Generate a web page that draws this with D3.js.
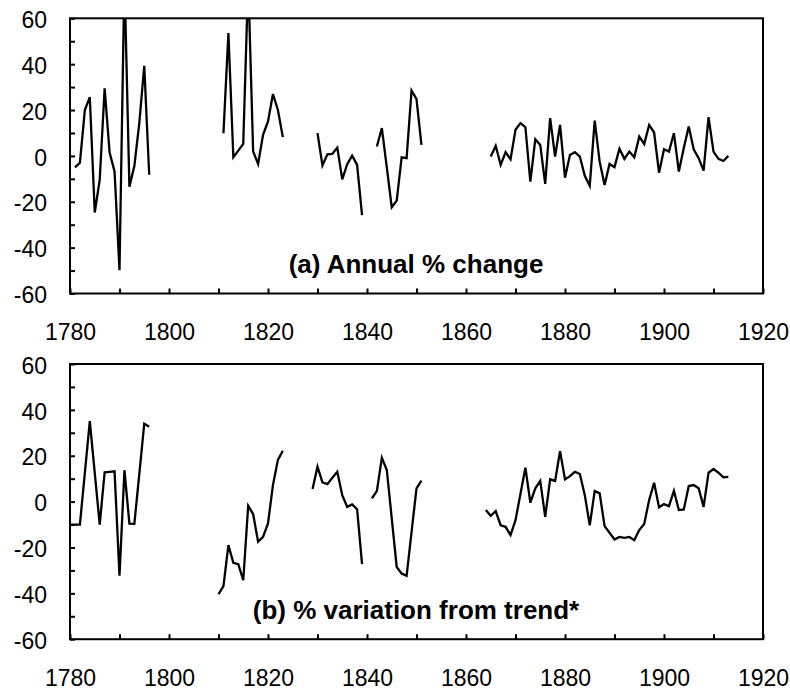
<!DOCTYPE html>
<html>
<head>
<meta charset="utf-8">
<script src="https://cdn.jsdelivr.net/npm/d3@7"></script>
<style>
  body { margin: 0; background: #fff; }
  text { font-family: Arial, "Liberation Sans", sans-serif; }
</style>
</head>
<body>
<div id="chart"></div>
<script>
// panel (a): annual % change, first value is 1781, null = no data
const startA = 1781;
const annualChange = [
  -5, -3, 20, 25.6, -24.7, -10.5, 29.5, 1.5, -6.8, -49.8, 78, -13.4, -4.4, 14.3, 39.3, -8.2,
  null, null, null, null, null, null, null, null, null, null, null, null, null, null,
  9.9, 53.6, -0.6, 2.3, 5.2, 77, 1.9, -3.5, 9.2, 15, 27, 20, 8.2,
  null, null, null, null, null, null,
  9.9, -4.2, 0.7, 0.9, 3.6, -10.2, -3.6, 0.1, -3.9, -25.8,
  null, null,
  4.1, 12.1, -5, -22.4, -19.5, -0.6, -1, 28.5, 24.8, 4.8,
  null, null, null, null, null, null, null, null, null, null, null, null, null,
  -0.3, 4.4, -3.9, 1.6, -1.5, 11.4, 14.3, 12.5, -11.2, 7.3, 4.8, -12.2, 16.5, -0.3, 13.5,
  -9.5, 0.4, 1.6, -0.3, -8.7, -13, 15.4, -2.5, -12.7, -3.5, -4.9, 3.1, -1.3, 1.9, -0.6,
  8.4, 5.2, 13.5, 10.2, -7.3, 2.9, 1.9, 9.9, -6.8, 3.4, 12.8, 2.9, -1, -6.4, 16.9,
  1.9, -1.3, -2.2, 0
];

// panel (b): % variation from trend, first value is 1780
const startB = 1780;
const trendVariation = [
  -10, -10, -10, 12.5, 35.1, 12.5, -10, 12.8, 13, 13.2, -32.3, 13.7, -9.6, -9.7, 12, 34, 32.6,
  null, null, null, null, null, null, null, null, null, null, null, null, null,
  -40.4, -36.9, -19, -26.7, -27.3, -34.3, -1.8, -5.5, -17.5, -15.4, -9.5, 7.2, 18.2, 22.2,
  null, null, null, null, null,
  5.5, 15.2, 8.4, 7.6, 10.4, 13, 2.8, -2.3, -1.2, -3.3, -27.3,
  null,
  1.4, 4.7, 19.1, 13.8, -7.3, -28.5, -31.4, -32.4, -13.3, 5.8, 9.1,
  null, null, null, null, null, null, null, null, null, null, null, null,
  -3.7, -6.2, -4.1, -10.3, -11, -14.6, -8.1, 3.3, 14.8, -0.5, 5.8, 9, -6.6, 9.7, 9,
  22, 9.7, 11.1, 13, 12, 2.8, -10.3, 4.6, 3.6, -10.7, -13.6, -16.5, -15.4, -15.8, -15.4,
  -16.8, -12.4, -9.8, 0.7, 8.2, -2.5, -1.1, -2, 4.7, -3.7, -3.4, 6.8, 7.2, 5.8, -2.3,
  12.6, 14.2, 12.6, 10.6, 10.8
];

const xTicks = [1780, 1790, 1800, 1810, 1820, 1830, 1840, 1850, 1860, 1870, 1880, 1890, 1900, 1910, 1920];
const yTicks = [-60, -50, -40, -30, -20, -10, 0, 10, 20, 30, 40, 50, 60];

const panels = [
  { start: startA, values: annualChange, title: "(a) Annual % change", top: 18.3 },
  { start: startB, values: trendVariation, title: "(b) % variation from trend*", top: 364 }
];

const W = 790, H = 691;
const left = 70, right = 763, ph = 275.2;

const svg = d3.select("#chart").append("svg")
  .attr("width", W)
  .attr("height", H);

const x = d3.scaleLinear().domain([1780, 1920]).range([left, right]);

panels.forEach(function (p, i) {
  const y = d3.scaleLinear().domain([-60, 60]).range([p.top + ph, p.top]);
  const g = svg.append("g");

  // clip so values beyond 60 stop at the frame
  svg.append("clipPath").attr("id", "clip" + i)
    .append("rect")
    .attr("x", left).attr("y", p.top)
    .attr("width", right - left).attr("height", ph);

  const pts = p.values.map((v, k) => ({ year: p.start + k, v: v }));
  const line = d3.line()
    .defined(d => d.v !== null)
    .x(d => x(d.year))
    .y(d => y(d.v));

  g.append("path")
    .datum(pts)
    .attr("clip-path", "url(#clip" + i + ")")
    .attr("fill", "none")
    .attr("stroke", "#000")
    .attr("stroke-width", 2.3)
    .attr("stroke-linejoin", "miter")
    .attr("d", line);

  // x axis, ticks pointing in
  const xAxis = g.append("g")
    .attr("transform", "translate(0," + (p.top + ph) + ")")
    .call(d3.axisBottom(x).tickValues(xTicks).tickSize(-5).tickPadding(30.5)
      .tickFormat(d => d % 20 === 0 ? String(d) : ""));
  // y axis
  const yAxis = g.append("g")
    .attr("transform", "translate(" + left + ",0)")
    .call(d3.axisLeft(y).tickValues(yTicks).tickSize(-5).tickPadding(23)
      .tickFormat(d => d % 20 === 0 ? String(d) : ""));

  [xAxis, yAxis].forEach(a => {
    a.select(".domain").remove();
    a.selectAll("line").attr("stroke", "#000").attr("stroke-width", 2);
    a.selectAll("text").attr("font-size", 23).attr("fill", "#000")
      .style("font-family", "Arial, 'Liberation Sans', sans-serif");
  });
  yAxis.selectAll("text").attr("dy", "0.4em");

  // frame
  g.append("rect")
    .attr("x", left).attr("y", p.top)
    .attr("width", right - left).attr("height", ph)
    .attr("fill", "none")
    .attr("stroke", "#000")
    .attr("stroke-width", 2);

  g.append("text")
    .attr("x", 416)
    .attr("y", p.top + ph - 20.5)
    .attr("text-anchor", "middle")
    .attr("font-size", 26)
    .attr("font-weight", "bold")
    .text(p.title);
});
</script>
</body>
</html>
